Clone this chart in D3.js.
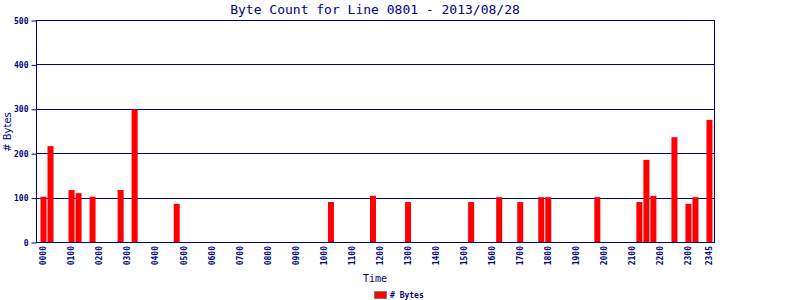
<!DOCTYPE html>
<html>
<head>
<meta charset="utf-8">
<script src="https://cdn.jsdelivr.net/npm/d3@7"></script>
<style>
  body { margin: 0; background: #fff; }
  text { fill: #000080; }
</style>
</head>
<body>
<div id="wrapper"></div>
<script>
// 15-minute slots of the day, only the ones with traffic have a value
const slotLabels = d3.range(96).map(i =>
    String(Math.floor(i / 4)).padStart(2, "0") + String((i % 4) * 15).padStart(2, "0"));
const activeSlots = ["0000", "0015", "0100", "0115", "0145", "0245", "0315", "0445",
    "1015", "1145", "1300", "1515", "1615", "1700", "1745", "1800", "1945",
    "2115", "2130", "2145", "2230", "2300", "2315", "2345"];
const byteCounts = [102, 216, 117, 110, 102, 117, 298, 86,
    90, 104, 90, 90, 101, 90, 101, 101, 101,
    90, 185, 104, 236, 86, 101, 275];
const tickLabels = ["0000", "0100", "0200", "0300", "0400", "0500", "0600", "0700",
    "0800", "0900", "1000", "1100", "1200", "1300", "1400", "1500", "1600", "1700",
    "1800", "1900", "2000", "2100", "2200", "2300", "2345"];
const yTicks = [0, 100, 200, 300, 400, 500];

function drawBarChart() {
    const navy = "#000080";
    const dimensions = {
        width: 800,
        height: 300,
        margin: { top: 20, right: 85, bottom: 58, left: 36 },
    };
    dimensions.boundedWidth = dimensions.width - dimensions.margin.left - dimensions.margin.right;
    dimensions.boundedHeight = dimensions.height - dimensions.margin.top - dimensions.margin.bottom;

    const dataset = activeSlots.map((s, i) => ({ slot: s, value: byteCounts[i] }));

    const svg = d3.select("#wrapper").append("svg")
        .attr("width", dimensions.width)
        .attr("height", dimensions.height);
    const bounds = svg.append("g")
        .attr("transform", `translate(${dimensions.margin.left},${dimensions.margin.top})`);

    // scales
    const xScale = d3.scaleBand()
        .domain(slotLabels)
        .range([4.5, dimensions.boundedWidth - 2.5])
        .paddingInner(1 / 7)
        .paddingOuter(0);
    const yScale = d3.scaleLinear()
        .domain([0, 500])
        .range([dimensions.boundedHeight, 0]);

    // grid lines
    bounds.append("g")
        .selectAll("line")
        .data(yTicks.slice(1))
        .join("line")
        .attr("x1", 0)
        .attr("x2", dimensions.boundedWidth)
        .attr("y1", d => Math.round(yScale(d)) + 0.5)
        .attr("y2", d => Math.round(yScale(d)) + 0.5)
        .attr("stroke", navy)
        .attr("stroke-width", 1);

    // bars
    bounds.append("g")
        .selectAll("rect")
        .data(dataset)
        .join("rect")
        .attr("x", d => xScale(d.slot))
        .attr("width", xScale.bandwidth())
        .attr("y", d => yScale(d.value))
        .attr("height", d => dimensions.boundedHeight - yScale(d.value))
        .attr("fill", "#ff0000");

    // frame: left, right, bottom
    const frame = bounds.append("g").attr("stroke", navy).attr("stroke-width", 1);
    frame.append("line")
        .attr("x1", 0.5).attr("x2", 0.5)
        .attr("y1", 0).attr("y2", dimensions.boundedHeight + 1);
    frame.append("line")
        .attr("x1", dimensions.boundedWidth - 0.5).attr("x2", dimensions.boundedWidth - 0.5)
        .attr("y1", 0).attr("y2", dimensions.boundedHeight + 1);
    frame.append("line")
        .attr("x1", 0).attr("x2", dimensions.boundedWidth)
        .attr("y1", dimensions.boundedHeight + 0.5).attr("y2", dimensions.boundedHeight + 0.5);

    // y axis
    const yAxisGenerator = d3.axisLeft(yScale)
        .tickValues(yTicks)
        .tickSize(5)
        .tickPadding(3);
    const yAxis = bounds.append("g")
        .attr("transform", "translate(0.5,0.5)")
        .call(yAxisGenerator);
    yAxis.select(".domain").remove();
    yAxis.selectAll(".tick line").attr("stroke", navy);
    yAxis.selectAll("text")
        .attr("font-family", "DejaVu Sans Mono")
        .attr("font-weight", "bold")
        .attr("font-size", 8)
        .attr("fill", navy);

    // x axis
    const xAxisGenerator = d3.axisBottom(xScale)
        .tickValues(tickLabels)
        .tickSize(0)
        .tickPadding(0);
    const xAxis = bounds.append("g")
        .attr("transform", `translate(0,${dimensions.boundedHeight})`)
        .call(xAxisGenerator);
    xAxis.select(".domain").remove();
    xAxis.selectAll("text")
        .attr("font-family", "DejaVu Sans Mono")
        .attr("font-weight", "bold")
        .attr("font-size", 8)
        .attr("fill", navy)
        .attr("text-anchor", "end")
        .attr("dy", "0.35em")
        .attr("transform", "translate(0,4) rotate(-90)")
        .attr("x", 0)
        .attr("y", 0);

    // title and axis labels
    svg.append("text")
        .attr("x", 375)
        .attr("y", 14)
        .attr("text-anchor", "middle")
        .attr("font-family", "DejaVu Sans Mono")
        .attr("font-size", 13)
        .attr("fill", navy)
        .text("Byte Count for Line 0801 - 2013/08/28");
    svg.append("text")
        .attr("x", 375)
        .attr("y", 282)
        .attr("text-anchor", "middle")
        .attr("font-family", "DejaVu Sans Mono")
        .attr("font-size", 10)
        .attr("fill", navy)
        .text("Time");
    svg.append("text")
        .attr("transform", "translate(11,132) rotate(-90)")
        .attr("text-anchor", "middle")
        .attr("font-family", "DejaVu Sans")
        .attr("font-size", 10)
        .attr("fill", navy)
        .text("# Bytes");

    // legend
    const legend = svg.append("g").attr("transform", "translate(374,291)");
    legend.append("rect")
        .attr("x", 0.5).attr("y", 0.5)
        .attr("width", 12).attr("height", 7)
        .attr("fill", "#ff0000")
        .attr("stroke", "#808080");
    legend.append("text")
        .attr("x", 16)
        .attr("y", 7)
        .attr("font-family", "DejaVu Sans Mono")
        .attr("font-weight", "bold")
        .attr("font-size", 8)
        .attr("fill", navy)
        .text("# Bytes");
}

drawBarChart();
</script>
</body>
</html>
